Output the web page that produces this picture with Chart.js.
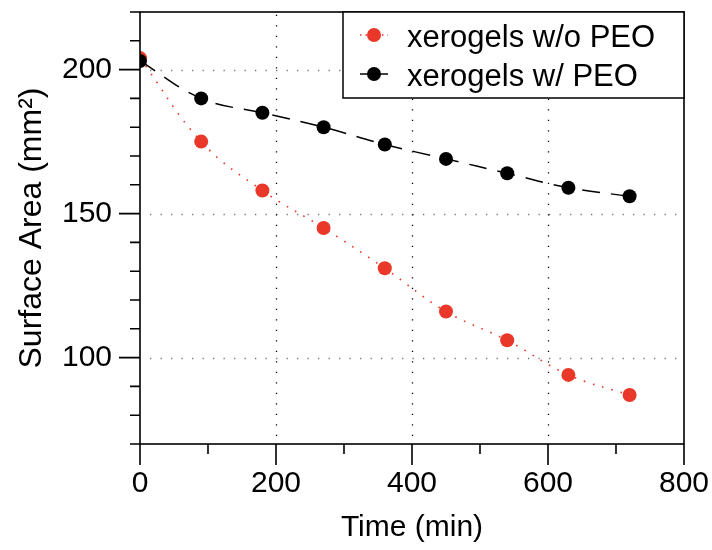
<!DOCTYPE html>
<html>
<head>
<meta charset="utf-8">
<script src="https://cdn.jsdelivr.net/npm/chart.js@4.4.1/dist/chart.umd.min.js"></script>
<style>
  html, body { margin: 0; padding: 0; background: #fff; }
  canvas { display: block; }
</style>
</head>
<body>
<canvas id="chart-surface" width="712" height="550"></canvas>
<script>
// data
const times = [0, 90, 180, 270, 360, 450, 540, 630, 720];
const areaNoPeo = [204, 175, 158, 145, 131, 116, 106, 94, 87];
const areaPeo = [203, 190, 185, 180, 174, 169, 164, 159, 156];
const xTicks = [0, 200, 400, 600, 800];
const yTicks = [100, 150, 200];
const seriesNames = ["xerogels w/o PEO", "xerogels w/ PEO"];

const FONT = "'Liberation Sans', Arial, Helvetica, sans-serif";
const RED = "rgb(233, 56, 41)";

const toPoints = (ys) => times.map((t, i) => ({ x: t, y: ys[i] }));

// dotted grid, closed frame, major/minor ticks and the boxed legend
const framePlugin = {
    id: "frame",
    beforeDatasetsDraw(chart) {
        const { ctx, chartArea: a, scales: { x, y } } = chart;
        ctx.save();
        ctx.lineWidth = 1.3;
        ctx.setLineDash([1.3, 9.2]);
        ctx.strokeStyle = "#777";
        yTicks.forEach((v) => {
            const py = Math.round(y.getPixelForValue(v)) + 0.5;
            ctx.beginPath();
            ctx.moveTo(a.left + 10, py);
            ctx.lineTo(a.right, py);
            ctx.stroke();
        });
        ctx.strokeStyle = "#000";
        xTicks.slice(1, -1).forEach((v) => {
            const px = Math.round(x.getPixelForValue(v)) + 0.5;
            ctx.beginPath();
            ctx.moveTo(px, a.bottom - 8);
            ctx.lineTo(px, a.top);
            ctx.stroke();
        });
        ctx.restore();
    },
    afterDraw(chart) {
        const { ctx, chartArea: a, scales: { x, y } } = chart;
        ctx.save();
        ctx.strokeStyle = "#000";
        ctx.lineWidth = 1.6;
        ctx.strokeRect(a.left, a.top, a.right - a.left, a.bottom - a.top);

        // ticks outside the frame
        ctx.beginPath();
        for (let v = y.min; v <= y.max; v += 10) {
            const len = v % 50 === 0 ? 21 : 10;
            const py = y.getPixelForValue(v);
            ctx.moveTo(a.left - len, py);
            ctx.lineTo(a.left, py);
        }
        for (let v = x.min; v <= x.max; v += 100) {
            const len = v % 200 === 0 ? 21 : 10;
            const px = x.getPixelForValue(v);
            ctx.moveTo(px, a.bottom);
            ctx.lineTo(px, a.bottom + len);
        }
        ctx.stroke();

        // legend box in the top right corner
        const bx = a.right - 341, by = a.top, bw = 341, bh = 86;
        ctx.fillStyle = "#fff";
        ctx.fillRect(bx, by, bw, bh);
        ctx.lineWidth = 1.5;
        ctx.strokeRect(bx, by, bw, bh);

        const rows = [23, 62];
        chart.data.datasets.forEach((ds, i) => {
            const cy = by + rows[i];
            const cx = bx + 31;
            ctx.strokeStyle = ds.borderColor;
            ctx.lineWidth = ds.borderWidth;
            ctx.setLineDash(i === 0 ? [1.5, 4] : []);
            ctx.beginPath();
            ctx.moveTo(cx - 14, cy);
            ctx.lineTo(cx + 14, cy);
            ctx.stroke();
            ctx.setLineDash([]);
            ctx.fillStyle = ds.backgroundColor;
            ctx.beginPath();
            ctx.arc(cx, cy, 7, 0, Math.PI * 2);
            ctx.fill();
            ctx.fillStyle = "#000";
            ctx.font = "31px " + FONT;
            ctx.textAlign = "left";
            ctx.textBaseline = "alphabetic";
            ctx.fillText(seriesNames[i], bx + 64, cy + 12);
        });
        ctx.restore();
    },
};

const tickFont = { family: FONT, size: 30 };

new Chart(document.getElementById("chart-surface"), {
    type: "line",
    data: {
        datasets: [
            {
                label: seriesNames[0],
                data: toPoints(areaNoPeo),
                borderColor: RED,
                backgroundColor: RED,
                borderWidth: 1.6,
                borderDash: [1.6, 8],
                pointRadius: 7,
                pointBorderWidth: 0,
                tension: 0.4,
                order: 2,
            },
            {
                label: seriesNames[1],
                data: toPoints(areaPeo),
                borderColor: "#000",
                backgroundColor: "#000",
                borderWidth: 1.5,
                borderDash: [18, 11],
                pointRadius: 7,
                pointBorderWidth: 0,
                tension: 0.4,
                order: 1,
            },
        ],
    },
    options: {
        responsive: false,
        animation: false,
        events: [],
        layout: { padding: { top: 12, right: 28, left: 0, bottom: 0 } },
        plugins: {
            legend: { display: false },
            tooltip: { enabled: false },
        },
        scales: {
            x: {
                type: "linear",
                min: 0,
                max: 800,
                afterBuildTicks: (s) => { s.ticks = xTicks.map((v) => ({ value: v })); },
                afterFit: (s) => {
                    s.height = 106;
                    s.paddingLeft = 0;
                    s.paddingRight = 0;
                },
                grid: { display: false, drawTicks: false },
                border: { display: false },
                ticks: { font: tickFont, color: "#000", padding: 22, maxRotation: 0 },
                title: {
                    display: true,
                    text: "Time (min)",
                    font: tickFont,
                    color: "#000",
                    padding: { top: 0, bottom: 4 },
                },
            },
            y: {
                min: 70,
                max: 220,
                afterBuildTicks: (s) => { s.ticks = yTicks.map((v) => ({ value: v })); },
                afterFit: (s) => {
                    s.width = 140;
                    s.paddingTop = 0;
                    s.paddingBottom = 0;
                },
                grid: { display: false, drawTicks: false },
                border: { display: false },
                ticks: { font: tickFont, color: "#000", padding: 28 },
                title: {
                    display: true,
                    text: "Surface Area (mm²)",
                    font: { family: FONT, size: 32 },
                    color: "#000",
                    padding: { top: 13, bottom: 0 },
                },
            },
        },
    },
    plugins: [framePlugin],
});
</script>
</body>
</html>
